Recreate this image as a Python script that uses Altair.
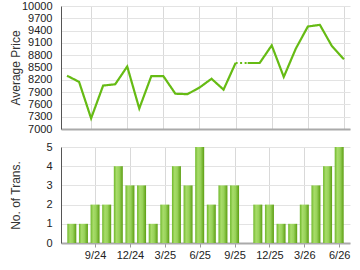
import json
import altair as alt
import pandas as pd

months = ["7/24", "8/24", "9/24", "10/24", "11/24", "12/24", "1/25", "2/25",
          "3/25", "4/25", "5/25", "6/25", "7/25", "8/25", "9/25", "10/25",
          "11/25", "12/25", "1/26", "2/26", "3/26", "4/26", "5/26", "6/26"]
avg_price = [8300, 8150, 7260, 8060, 8090, 8525, 7500, 8290, 8290, 7860, 7850, 8010,
             8225, 7960, 8610, 8610, 8610, 9040, 8270, 8960, 9500, 9540, 9020, 8700]
transactions = [1, 1, 2, 2, 4, 3, 3, 1, 2, 4, 3, 5, 2, 3, 3, 0, 2, 2, 1, 1, 2, 3, 4, 5]
tick_labels = ["9/24", "12/24", "3/25", "6/25", "9/25", "12/25", "3/26", "6/26"]
price_ticks = list(range(7000, 10001, 300))
trans_ticks = [0, 1, 2, 3, 4, 5]
dotted_after = ["9/25"]  # the segment starting at this month is drawn dotted

FONT = "Liberation Sans"
LINE_GREEN = "#66bb14"

n = len(months)
tick_idx = [months.index(t) for t in tick_labels]
label_expr = json.dumps(months) + "[datum.value]"

# line segments
dotted_idx = {months.index(m) for m in dotted_after}
line_rows = []
seg = 0
start = 0
for i in range(n - 1):
    if i in dotted_idx:
        if start < i:
            for j in range(start, i + 1):
                line_rows.append({"i": j, "price": avg_price[j], "seg": seg, "style": "solid"})
            seg += 1
        for j in (i, i + 1):
            line_rows.append({"i": j, "price": avg_price[j], "seg": seg, "style": "dotted"})
        seg += 1
        start = i + 1
for j in range(start, n):
    line_rows.append({"i": j, "price": avg_price[j], "seg": seg, "style": "solid"})
line_df = pd.DataFrame(line_rows)

bar_df = pd.DataFrame({"i": list(range(n)), "month": months, "trans": transactions})
bar_df = bar_df[bar_df["trans"] > 0]

xscale = alt.Scale(domain=[-0.5, n - 0.5], nice=False, zero=False)

top = alt.Chart(line_df).mark_line(strokeWidth=2.2, color=LINE_GREEN, strokeJoin="miter").encode(
    x=alt.X("i:Q", scale=xscale, title=None,
            axis=alt.Axis(values=tick_idx, labels=False, ticks=False, grid=True,
                          gridColor="#d9d9d9", domainColor="#aaaaaa", domainWidth=2)),
    y=alt.Y("price:Q", scale=alt.Scale(domain=[7000, 10000], nice=False, zero=False),
            title="Average Price",
            axis=alt.Axis(values=price_ticks, format="d", ticks=False, labelPadding=9, grid=True,
                          gridColor="#e3e3e3", domainColor="#555555", domainWidth=1,
                          titleX=-39, titleY=61.5, titleAngle=270, titleAlign="center",
                          titleBaseline="bottom")),
    detail="seg:N",
    strokeDash=alt.StrokeDash("style:N",
                              scale=alt.Scale(domain=["solid", "dotted"], range=[[1, 0], [2, 2.5]]),
                              legend=None),
).properties(width=289, height=123)

grad = alt.Gradient(
    gradient="linear",
    stops=[alt.GradientStop(color="#6fb82a", offset=0),
           alt.GradientStop(color="#a8dc6a", offset=0.3),
           alt.GradientStop(color="#98d25a", offset=0.6),
           alt.GradientStop(color="#5c9e12", offset=1)],
    x1=0, x2=1, y1=0, y2=0,
)

bottom = alt.Chart(bar_df).mark_bar(size=9, fill=grad).encode(
    x=alt.X("i:Q", scale=xscale, title=None,
            axis=alt.Axis(values=tick_idx, labelExpr=label_expr, ticks=True, tickSize=4,
                          tickColor="#999999", grid=True, gridColor="#d9d9d9",
                          domainColor="#aaaaaa", domainWidth=2, labelPadding=2)),
    y=alt.Y("trans:Q", scale=alt.Scale(domain=[0, 5], nice=False),
            title="No. of Trans.",
            axis=alt.Axis(values=trans_ticks, format="d", ticks=False, labelPadding=9, grid=True,
                          gridColor="#e3e3e3", domainColor="#555555", domainWidth=1,
                          titleX=-39, titleY=48, titleAngle=270, titleAlign="center",
                          titleBaseline="bottom")),
).properties(width=289, height=96)

chart = alt.vconcat(top, bottom, spacing=18, bounds="flush").properties(
    padding={"left": 9, "top": 0, "right": 4, "bottom": 4},
    background="white",
).configure_view(stroke=None).configure_axis(
    labelFont=FONT, labelFontSize=11, labelColor="#222222",
    titleFont=FONT, titleFontSize=12, titleFontWeight="normal", titleColor="#333333",
)

chart.save("out.html", embed_options={"renderer": "svg", "actions": False})
